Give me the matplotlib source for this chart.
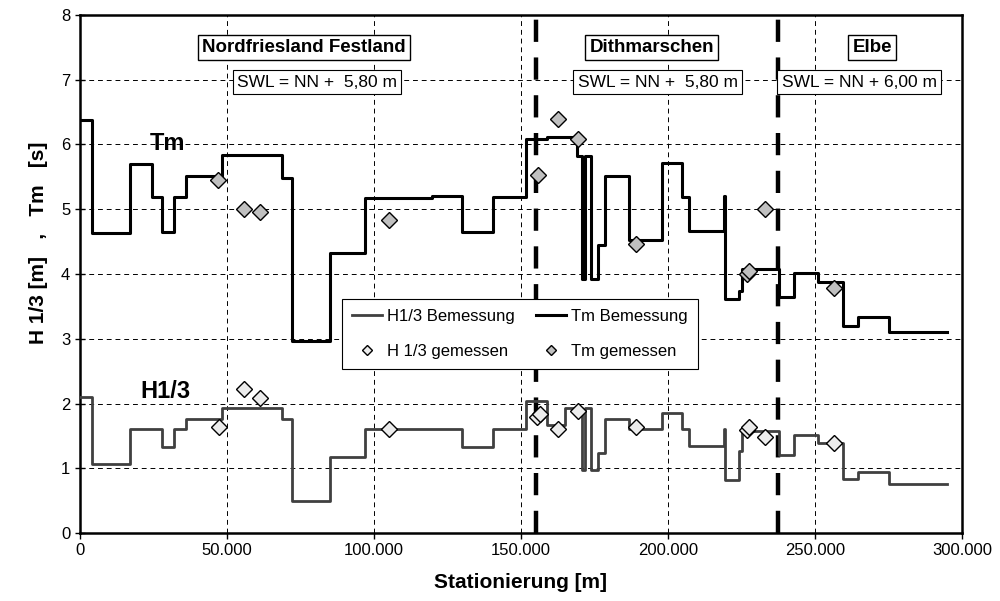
import numpy as np
import matplotlib.pyplot as plt
from matplotlib.lines import Line2D

plt.rcParams['font.family'] = ['Liberation Sans', 'DejaVu Sans']

# Bemessungswerte als Treppenfunktion: Abschnittsbeginn [km] und Wert
h_start = [0, 4.2, 17, 28, 32, 36, 48.2, 68.6, 72, 85, 97, 130, 140.6, 151.7,
           158.7, 165, 170.6, 171.8, 173.7, 176.3, 178.6, 186.7, 197.8, 204.7,
           207, 219, 219.3, 224, 225.3, 237.8, 243, 251, 259.6, 264.5, 275, 294.8]
h_val = [2.10, 1.07, 1.60, 1.33, 1.60, 1.76, 1.93, 1.76, 0.49, 1.17, 1.60, 1.33,
         1.60, 2.04, 1.67, 1.93, 0.97, 1.93, 0.97, 1.23, 1.76, 1.60, 1.86, 1.60,
         1.34, 1.60, 0.82, 1.27, 1.58, 1.20, 1.51, 1.39, 0.83, 0.95, 0.76, 0.76]

tm_start = [0, 4.2, 17, 24.6, 28, 32, 36, 48.2, 68.6, 72, 85, 97, 119.6, 130,
            140.6, 151.7, 158.7, 169.2, 170.6, 171.8, 173.7, 176.3, 178.6, 186.7,
            197.8, 204.9, 207, 219, 219.3, 224, 225.3, 237.8, 243, 251, 259.6,
            264.5, 275, 294.8]
tm_val = [6.38, 4.63, 5.70, 5.19, 4.65, 5.19, 5.51, 5.84, 5.49, 2.97, 4.33, 5.18,
          5.20, 4.65, 5.19, 6.08, 6.12, 5.82, 3.92, 5.82, 3.92, 4.45, 5.51, 4.53,
          5.72, 5.19, 4.66, 5.20, 3.61, 3.73, 4.07, 3.65, 4.01, 3.87, 3.20, 3.33,
          3.10, 3.10]

# Messwerte
h_mess_x = [47.3, 55.7, 61.2, 105.2, 155.3, 156.3, 162.5, 169.5, 189, 227.0,
            227.5, 233, 256.5]
h_mess_y = [1.63, 2.22, 2.08, 1.60, 1.79, 1.84, 1.60, 1.89, 1.64, 1.59, 1.63,
            1.48, 1.39]
tm_mess_x = [47.0, 55.9, 61.3, 105.2, 155.9, 162.5, 169.5, 189, 227.0, 227.5,
             233, 256.5]
tm_mess_y = [5.45, 5.01, 4.96, 4.83, 5.53, 6.39, 6.08, 4.46, 4.00, 4.04, 5.00,
             3.79]

# Abschnittsgrenzen und Beschriftungen
grenzen = [155, 237.5]
abschnitte = ['Nordfriesland Festland', 'Dithmarschen', 'Elbe']
abschnitt_x = [76.2, 194.5, 269.4]
swl = ['SWL = NN +  5,80 m', 'SWL = NN +  5,80 m', 'SWL = NN + 6,00 m']
swl_x = [80.6, 196.5, 265.0]

xticks = [0, 50000, 100000, 150000, 200000, 250000, 300000]
xticklabels = ['0', '50.000', '100.000', '150.000', '200.000', '250.000', '300.000']

km = 1000.0
fig = plt.figure(figsize=(10, 6.01), dpi=100)
ax = fig.add_axes([0.08, 0.1131, 0.882, 0.862])

ax.set_xlim(0, 300000)
ax.set_ylim(0, 8)
ax.set_xticks(xticks)
ax.set_xticklabels(xticklabels)
ax.set_yticks(range(0, 9))
ax.tick_params(axis='both', labelsize=12, direction='out', length=4, width=1)
ax.tick_params(axis='y', direction='inout', length=7)
for sp in ax.spines.values():
    sp.set_linewidth(1.8)

ax.grid(True, color='black', linestyle=(0, (5, 4)), linewidth=0.7)
ax.set_axisbelow(True)

for g in grenzen:
    ax.axvline(g * km, color='black', linewidth=3.2, linestyle=(0, (5, 3.5)), zorder=2)

ax.step(np.array(h_start) * km, h_val, where='post', color='#404040', linewidth=2.0, zorder=3)
ax.step(np.array(tm_start) * km, tm_val, where='post', color='black', linewidth=2.2, zorder=3)
ax.plot(np.array(h_mess_x) * km, h_mess_y, 'D', ms=8.5, mfc='#ececec', mec='black',
        mew=1.0, zorder=4)
ax.plot(np.array(tm_mess_x) * km, tm_mess_y, 'D', ms=8.5, mfc='#c0c0c0', mec='black',
        mew=1.0, zorder=4)

for name, x in zip(abschnitte, abschnitt_x):
    ax.text(x * km, 7.5, name, ha='center', va='center', fontsize=13.5, fontweight='bold',
            bbox=dict(boxstyle='square,pad=0.22', fc='white', ec='black', lw=1), zorder=5)
for s, x in zip(swl, swl_x):
    ax.text(x * km, 6.96, s, ha='center', va='center', fontsize=12.5,
            bbox=dict(boxstyle='square,pad=0.25', fc='white', ec='black', lw=0.8), zorder=5)

ax.text(29.6 * km, 6.02, 'Tm', ha='center', va='center', fontsize=17, fontweight='bold', zorder=5)
ax.text(28.9 * km, 2.18, 'H1/3', ha='center', va='center', fontsize=17, fontweight='bold', zorder=5)

ax.set_xlabel('Stationierung [m]', fontsize=15, fontweight='bold')
ax.set_ylabel('H 1/3 [m]   ,   Tm   [s]', fontsize=15, fontweight='bold')
ax.xaxis.set_label_coords(0.499, -0.078)
ax.yaxis.set_label_coords(-0.036, 0.56)

handles = [
    Line2D([], [], color='#404040', linewidth=2.0),
    Line2D([], [], marker='D', linestyle='none', ms=5.5, mfc='#ececec', mec='black', mew=1.0),
    Line2D([], [], color='black', linewidth=2.2),
    Line2D([], [], marker='D', linestyle='none', ms=5.5, mfc='#c0c0c0', mec='black', mew=1.0),
]
labels = ['H1/3 Bemessung', 'H 1/3 gemessen', 'Tm Bemessung', 'Tm gemessen']
leg = ax.legend(handles, labels, ncol=2, loc='upper left', bbox_to_anchor=(0.297, 0.452),
                fontsize=12, frameon=True, fancybox=False, edgecolor='black',
                framealpha=1, borderaxespad=0, handlelength=1.8, columnspacing=1.3,
                labelspacing=1.2, handletextpad=0.3, borderpad=0.6)
leg.get_frame().set_linewidth(0.8)
leg.set_zorder(6)

fig.savefig('out.png', dpi=100)
